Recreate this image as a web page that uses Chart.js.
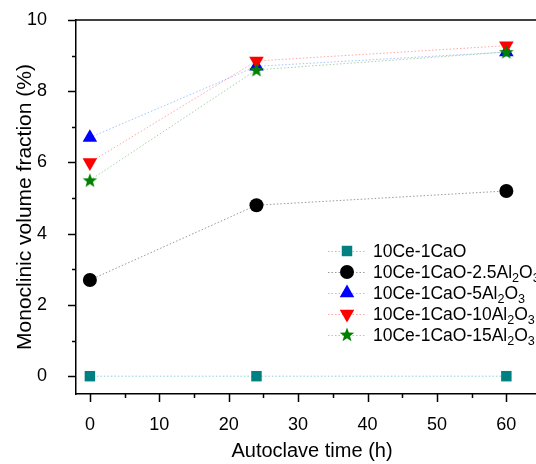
<!DOCTYPE html>
<html>
<head>
<meta charset="utf-8">
<script src="https://cdn.jsdelivr.net/npm/chart.js@4/dist/chart.umd.min.js"></script>
<style>
html,body{margin:0;padding:0;overflow:hidden;background:#fff;}
#wrap{position:absolute;left:0;top:0;width:548px;height:464px;}
</style>
</head>
<body>
<div id="wrap"><canvas id="c"></canvas></div>
<script>
// ---- data ----
const times = [0, 24, 60];
const seriesNames = ['10Ce-1CaO', '10Ce-1CaO-2.5Al₂O₃', '10Ce-1CaO-5Al₂O₃', '10Ce-1CaO-10Al₂O₃', '10Ce-1CaO-15Al₂O₃'];
const cao = [0, 0, 0];
const al25 = [2.7, 4.8, 5.2];
const al5 = [6.7, 8.7, 9.1];
const al10 = [6.0, 8.85, 9.28];
const al15 = [5.5, 8.6, 9.1];
const xTicks = [0, 10, 20, 30, 40, 50, 60];
const yTicks = [0, 2, 4, 6, 8, 10];
const xTitle = 'Autoclave time (h)';
const yTitle = 'Monoclinic volume fraction (%)';

const FONT = "'Liberation Sans', Arial, sans-serif";

function starCanvas(color, R) {
  const s = Math.ceil(R * 2 + 2);
  const cv = document.createElement('canvas');
  cv.width = s; cv.height = s;
  const g = cv.getContext('2d');
  drawStar(g, s / 2, s / 2 + 0.5, R, color);
  return cv;
}
function drawStar(g, cx, cy, R, color) {
  const r = R * 0.42;
  g.beginPath();
  for (let i = 0; i < 10; i++) {
    const rad = i % 2 === 0 ? R : r;
    const a = -Math.PI / 2 + i * Math.PI / 5;
    const px = cx + rad * Math.cos(a), py = cy + rad * Math.sin(a);
    if (i === 0) g.moveTo(px, py); else g.lineTo(px, py);
  }
  g.closePath();
  g.fillStyle = color;
  g.fill();
}

const styles = [
  {color: '#008080', line: 'rgba(0,150,160,0.45)', style: 'rect', radius: 7.4, rot: 0},
  {color: '#000000', line: 'rgba(0,0,0,0.4)', style: 'circle', radius: 7, rot: 0},
  {color: '#0000ff', line: 'rgba(0,80,255,0.35)', style: 'triangle', radius: 8.4, rot: 0},
  {color: '#ff0000', line: 'rgba(255,0,0,0.35)', style: 'triangle', radius: 8.4, rot: 180},
  {color: '#008000', line: 'rgba(0,128,0,0.35)', style: 'star', radius: 7.6, rot: 0}
];
const values = [cao, al25, al5, al10, al15];

const datasets = values.map((v, i) => {
  const st = styles[i];
  return {
    label: seriesNames[i],
    data: times.map((t, j) => ({x: t, y: v[j]})),
    borderColor: st.line,
    backgroundColor: st.color,
    borderWidth: 1,
    borderDash: [1.5, 2],
    pointStyle: st.style === 'star' ? starCanvas(st.color, st.radius) : st.style,
    pointRadius: st.radius,
    pointRotation: st.rot,
    pointBorderWidth: 0,
    pointBorderColor: st.color,
    pointBackgroundColor: st.color,
    tension: 0,
    clip: false
  };
});
datasets.forEach((d, i) => d.order = 5 - i);

function drawMarker(ctx, st, x, y) {
  ctx.save();
  ctx.fillStyle = st.color;
  const r = st.radius;
  if (st.style === 'rect') {
    const s = Math.SQRT1_2 * r;
    ctx.fillRect(x - s, y - s, 2 * s, 2 * s);
  } else if (st.style === 'circle') {
    ctx.beginPath(); ctx.arc(x, y, r, 0, Math.PI * 2); ctx.fill();
  } else if (st.style === 'triangle') {
    ctx.translate(x, y);
    ctx.rotate(st.rot * Math.PI / 180);
    ctx.beginPath();
    for (let k = 0; k < 3; k++) {
      const a = -Math.PI / 2 + k * 2 * Math.PI / 3;
      const px = r * Math.cos(a), py = r * Math.sin(a);
      if (k === 0) ctx.moveTo(px, py); else ctx.lineTo(px, py);
    }
    ctx.closePath(); ctx.fill();
  } else if (st.style === 'star') {
    drawStar(ctx, x, y, r, st.color);
  }
  ctx.restore();
}

function drawSubText(ctx, text, x, y, size) {
  const sub = {'₂': '2', '₃': '3'};
  let cx = x;
  for (const ch of text) {
    if (sub[ch]) {
      ctx.font = (size * 0.72) + 'px ' + FONT;
      ctx.fillText(sub[ch], cx, y + size * 0.3);
      cx += ctx.measureText(sub[ch]).width;
    } else {
      ctx.font = size + 'px ' + FONT;
      ctx.fillText(ch, cx, y);
      cx += ctx.measureText(ch).width;
    }
  }
}

const framePlugin = {
  id: 'frame',
  afterDraw(chart) {
    const ctx = chart.ctx;
    const ca = chart.chartArea;
    const xs = chart.scales.x, ys = chart.scales.y;
    ctx.save();
    ctx.strokeStyle = '#000';
    ctx.lineWidth = 1.5;
    ctx.beginPath(); ctx.moveTo(ca.left, ca.top); ctx.lineTo(ca.right + 5, ca.top); ctx.stroke();
    for (let v = 0; v <= 10; v++) {
      const py = Math.round(ys.getPixelForValue(v)) + 0.5;
      const len = v % 2 === 0 ? 8 : 4;
      ctx.beginPath(); ctx.moveTo(ca.left, py); ctx.lineTo(ca.left - len, py); ctx.stroke();
    }
    for (let v = 0; v <= 65; v += 5) {
      const px = Math.round(xs.getPixelForValue(v)) + 0.5;
      const len = v % 10 === 0 ? 8 : 4;
      ctx.beginPath(); ctx.moveTo(px, ca.bottom); ctx.lineTo(px, ca.bottom + len); ctx.stroke();
    }
    const x0 = 328, rowY = [251, 272, 293, 314, 335];
    ctx.textBaseline = 'middle';
    for (let i = 0; i < seriesNames.length; i++) {
      const st = styles[i];
      const y = rowY[i];
      ctx.save();
      ctx.strokeStyle = st.line;
      ctx.lineWidth = 1;
      ctx.setLineDash([1.5, 2]);
      ctx.beginPath(); ctx.moveTo(x0, y + 0.5); ctx.lineTo(x0 + 38, y + 0.5); ctx.stroke();
      ctx.restore();
      drawMarker(ctx, st, x0 + 19, y);
      ctx.fillStyle = '#000';
      drawSubText(ctx, seriesNames[i], 373, y + 1, 17.5);
    }
    ctx.restore();
  }
};

new Chart(document.getElementById('c'), {
  type: 'line',
  data: {datasets},
  options: {
    responsive: true,
    maintainAspectRatio: false,
    animation: false,
    devicePixelRatio: 1,
    layout: {autoPadding: false, padding: {top: 20, right: 0, left: 0, bottom: 0}},
    plugins: {legend: {display: false}, tooltip: {enabled: false}},
    scales: {
      x: {
        type: 'linear',
        min: -2, max: 66,
        afterFit: s => { s.height = 70; s.paddingLeft = 0; s.paddingRight = 0; },
        afterBuildTicks: s => { s.ticks = xTicks.map(v => ({value: v})); },
        grid: {display: false},
        border: {display: true, color: '#000', width: 1.5},
        ticks: {padding: 12, color: '#000', font: {family: FONT, size: 18}, maxRotation: 0, callback: v => String(v)},
        title: {display: true, text: xTitle, color: '#000', font: {family: FONT, size: 20}, padding: {top: 0, bottom: 1}}
      },
      y: {
        type: 'linear',
        min: -0.5, max: 10,
        afterFit: s => { s.width = 76; s.paddingTop = 0; s.paddingBottom = 0; },
        afterBuildTicks: s => { s.ticks = yTicks.map(v => ({value: v})); },
        grid: {display: false},
        border: {display: true, color: '#000', width: 1.5},
        ticks: {padding: 21, color: '#000', font: {family: FONT, size: 18}, callback: v => String(v)},
        title: {display: true, text: yTitle, color: '#000', font: {family: FONT, size: 21}, padding: {top: 13, bottom: 0}}
      }
    }
  },
  plugins: [framePlugin]
});
</script>
</body>
</html>
